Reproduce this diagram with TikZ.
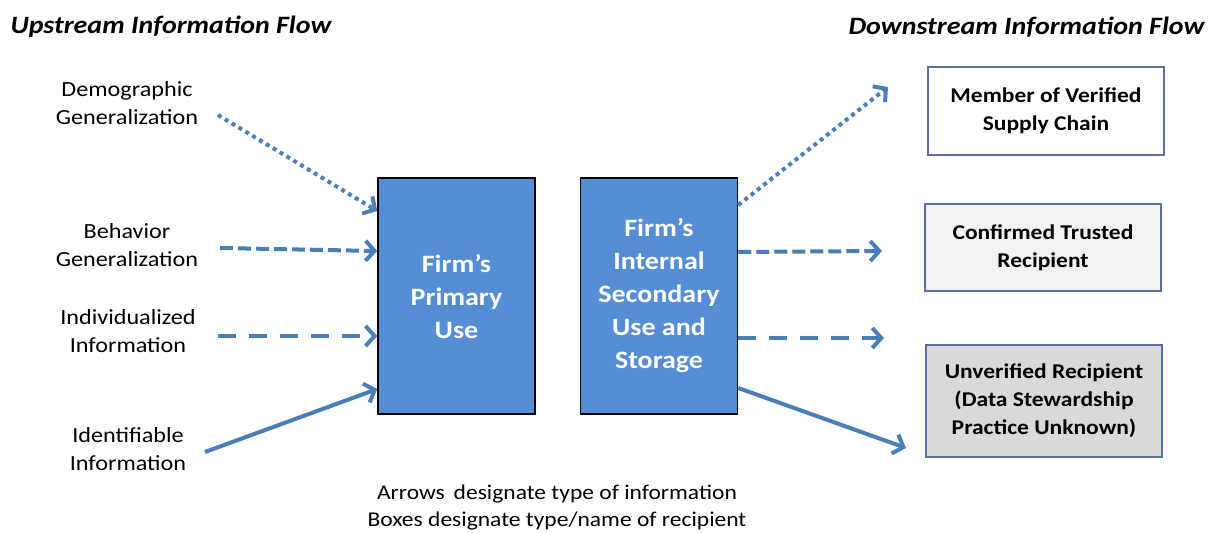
\documentclass[tikz,border=0pt]{standalone}
\usepackage{fontspec}
\setmainfont{Carlito}[FakeStretch=1.12]
\usetikzlibrary{arrows.meta}
\definecolor{flowblue}{HTML}{4A7EBB}
\definecolor{boxblue}{HTML}{558ED5}
\definecolor{edgeblue}{HTML}{5773A3}
\definecolor{paleshade}{HTML}{F2F2F2}
\definecolor{darkshade}{HTML}{D9D9D9}
\tikzset{
  flow/.style={draw=flowblue, line width=4pt, line cap=butt,
    -{Straight Barb[length=9pt,width=20pt]}},
  dotflow/.style={flow, dash pattern=on 4pt off 4pt},
  dashflow/.style={flow, dash pattern=on 13pt off 5pt},
  longdashflow/.style={flow, dash pattern=on 18pt off 13pt},
  source/.style={align=center, font=\fontsize{21.6}{28}\selectfont},
  firmbox/.style={draw=black, line width=1.5pt, fill=boxblue, text=white,
    minimum width=157pt, minimum height=236pt, align=center,
    font=\bfseries\fontsize{25}{33}\selectfont},
  recipient/.style={draw=edgeblue, line width=1.2pt, minimum width=236pt,
    align=center, font=\bfseries\fontsize{21}{28}\selectfont},
  heading/.style={font=\bfseries\itshape\fontsize{25}{28}\selectfont}
}
\begin{document}
\begin{tikzpicture}[x=1pt, y=-1pt]
  \useasboundingbox (0,0) rectangle (1219,533);
  \node[heading, anchor=west] (up) at (7,27) {Upstream Information Flow};
  \node[heading, anchor=east] (down) at (1208,27) {Downstream Information Flow};
  \node[source] (demo) at (127,103) {Demographic\\Generalization};
  \node[source] (behav) at (127,245) {Behavior\\Generalization};
  \node[source] (indiv) at (128,331) {Individualized\\Information};
  \node[source] (ident) at (128,449) {Identifiable\\Information};
  \node[firmbox] (primary) at (456.5,296) {Firm’s\\Primary\\Use};
  \node[firmbox] (secondary) at (659,296) {Firm’s\\Internal\\Secondary\\Use and\\Storage};
  \node[recipient, minimum height=88pt] (member) at (1046,111) {Member of Verified\\Supply Chain};
  \node[recipient, fill=paleshade, minimum height=87pt] (trusted) at (1043,247.5) {Confirmed Trusted\\Recipient};
  \node[recipient, fill=darkshade, minimum height=112pt] (unverified) at (1044,401) {Unverified Recipient\\(Data Stewardship\\Practice Unknown)};
  \node[source, font=\fontsize{21}{27}\selectfont] (note) at (557,508) {Arrows\, designate type of information\\Boxes designate type/name of recipient};
  \coordinate (d1) at (218,115);
  \coordinate (b1) at (220,248);
  \coordinate (i1) at (218,336);
  \coordinate (n1) at (205,452);
  \coordinate (m2) at (888,87);
  \coordinate (t2) at (882,251);
  \coordinate (u2) at (884,338);
  \coordinate (v2) at (906,448);
  \begin{scope}
    \draw[dotflow] (d1) to ([yshift=85pt]primary.west);
    \draw[dashflow] (b1) to ([yshift=45pt]primary.west);
    \draw[longdashflow] (i1) to ([yshift=-40pt]primary.west);
    \draw[flow] (n1) to ([yshift=-93pt]primary.west);
    \draw[dotflow] ([yshift=91pt]secondary.east) to (m2);
    \draw[dashflow] ([yshift=44pt]secondary.east) to (t2);
    \draw[longdashflow] ([yshift=-42pt]secondary.east) to (u2);
    \draw[flow] ([yshift=-92pt]secondary.east) to (v2);
  \end{scope}
\end{tikzpicture}
\end{document}
